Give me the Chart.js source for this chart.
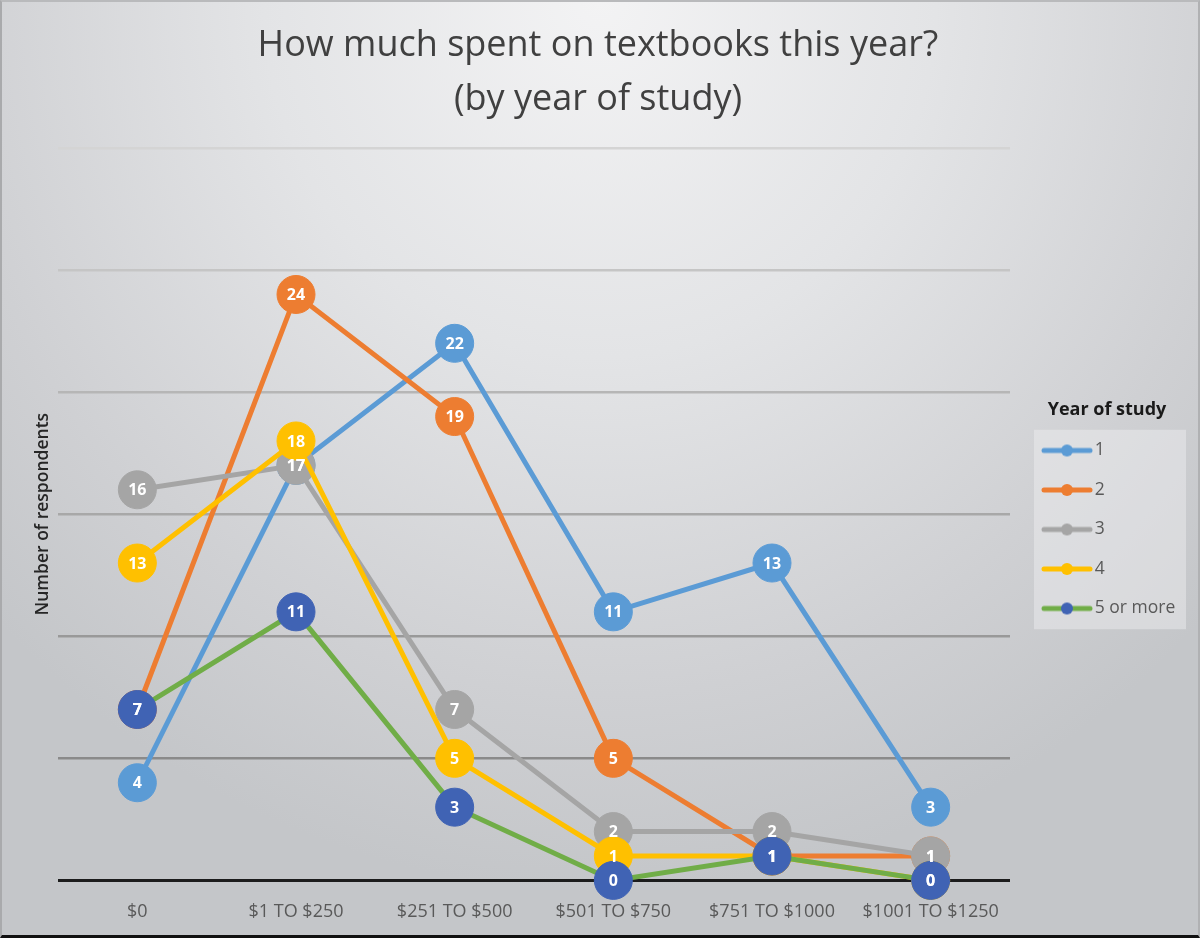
<!DOCTYPE html>
<html>
<head>
<meta charset="utf-8">
<title>Textbook spending by year of study</title>
<script src="https://cdn.jsdelivr.net/npm/chart.js@4.4.1/dist/chart.umd.min.js"></script>
<style>
    html, body { margin: 0; padding: 0; }
    #wrap {
        position: relative; width: 1200px; height: 938px;
        background: radial-gradient(ellipse 70% 95% at 50% 0%, #f3f3f4 0%, #e3e4e6 40%, #cfd0d3 78%, #c4c6c9 100%);
    }
    #frame {
        position: absolute; left: 0; top: 0; right: 0; bottom: 0; pointer-events: none;
        border-left: 2px solid #a9aaac; border-top: 2px solid #b9babc; border-right: 2px solid #b0b1b3;
        border-bottom: 3px solid #101010;
    }
    canvas { display: block; }
</style>
</head>
<body>
<div id="wrap">
    <canvas id="lineChart" width="1200" height="938"></canvas>
    <div id="frame"></div>
</div>
<script>
// values
var categories = ['$0', '$1 TO $250', '$251 TO $500', '$501 TO $750', '$751 TO $1000', '$1001 TO $1250'];
var seriesNames = ['1', '2', '3', '4', '5 or more'];
var year1 = [4, 17, 22, 11, 13, 3];
var year2 = [7, 24, 19, 5, 1, 1];
var year3 = [16, 17, 7, 2, 2, 1];
var year4 = [13, 18, 5, 1, 1, 0];
var year5 = [7, 11, 3, 0, 1, 0];
var yMin = 0, yMax = 30, yStep = 5;

var lineColors = ['#5B9BD5', '#ED7D31', '#A5A5A5', '#FFC000', '#70AD47'];
var pointColors = ['#5B9BD5', '#ED7D31', '#A5A5A5', '#FFC000', '#4063B4'];
var allSeries = [year1, year2, year3, year4, year5];
var font = '"Open Sans", "Noto Sans", sans-serif';

// little line+dot symbol for the legend (wider than its box so it runs up to the text)
function legendSymbol(lineCol, dotCol) {
    var c = document.createElement('canvas');
    c.width = 70; c.height = 14;
    var g = c.getContext('2d');
    g.strokeStyle = lineCol;
    g.lineWidth = 5;
    g.lineCap = 'round';
    g.beginPath(); g.moveTo(20, 7); g.lineTo(66, 7); g.stroke();
    g.fillStyle = dotCol;
    g.beginPath(); g.arc(43, 7, 6, 0, Math.PI * 2); g.fill();
    return c;
}
var symbols = lineColors.map(function (c, i) { return legendSymbol(c, pointColors[i]); });

// white value inside every marker
var pointLabels = {
    id: 'pointLabels',
    afterDatasetsDraw: function (chart) {
        var ctx = chart.ctx;
        ctx.save();
        ctx.font = 'bold 16px ' + font;
        ctx.fillStyle = '#ffffff';
        ctx.textAlign = 'center';
        ctx.textBaseline = 'middle';
        chart.data.datasets.forEach(function (ds, i) {
            chart.getDatasetMeta(i).data.forEach(function (pt, j) {
                ctx.fillText(ds.data[j], pt.x, pt.y + 1);
            });
        });
        ctx.restore();
    }
};

// pale panel behind the legend items; the legend box is widened so
// "5 or more" is not clipped and the title sits over the panel
var legendPanel = {
    id: 'legendPanel',
    beforeDraw: function (chart) {
        var lg = chart.legend, hb = lg && lg.legendHitBoxes;
        if (!hb || !hb.length) return;
        lg.width = 194;
        lg.right = lg.left + lg.width;
        var first = hb[0], last = hb[hb.length - 1];
        var ctx = chart.ctx;
        ctx.save();
        ctx.fillStyle = 'rgba(240,240,242,0.45)';
        ctx.fillRect(first.left + 2, first.top - 12, 152, last.top + last.height - first.top + 24);
        ctx.restore();
    }
};

var datasets = allSeries.map(function (vals, i) {
    return {
        label: seriesNames[i],
        data: vals,
        borderColor: lineColors[i],
        backgroundColor: pointColors[i],
        borderWidth: 5,
        pointRadius: 19,
        pointHoverRadius: 19,
        pointBackgroundColor: pointColors[i],
        pointBorderColor: pointColors[i],
        pointBorderWidth: 1,
        tension: 0,
        fill: false,
        clip: false,
        order: allSeries.length - i
    };
});

var chart = new Chart(document.getElementById('lineChart'), {
    type: 'line',
    data: { labels: categories, datasets: datasets },
    plugins: [legendPanel, pointLabels],
    options: {
        responsive: false,
        animation: false,
        events: [],
        layout: { autoPadding: false, padding: { left: 29, right: 33, top: 19, bottom: -6 } },
        plugins: {
            title: {
                display: true,
                text: ['How much spent on textbooks this year?', '(by year of study)'],
                color: '#404040',
                font: { family: font, size: 36, weight: 'normal', lineHeight: 1.5 },
                padding: { top: 0, bottom: 21 }
            },
            legend: {
                position: 'right',
                fullSize: false,
                maxWidth: 157,
                title: {
                    display: true,
                    text: 'Year of study',
                    color: '#1a1a1a',
                    font: { family: font, size: 18, weight: 'bold' },
                    padding: { top: 12, bottom: -3 }
                },
                labels: {
                    usePointStyle: true,
                    pointStyleWidth: 54,
                    padding: 22,
                    color: '#595959',
                    font: { family: font, size: 17.5 },
                    sort: function (a, b) { return a.datasetIndex - b.datasetIndex; },
                    generateLabels: function (ch) {
                        var items = Chart.defaults.plugins.legend.labels.generateLabels(ch);
                        items.forEach(function (it) { it.pointStyle = symbols[it.datasetIndex]; });
                        return items;
                    }
                }
            },
            tooltip: { enabled: false }
        },
        scales: {
            x: {
                offset: true,
                grid: { display: false, drawTicks: false },
                border: { display: false },
                ticks: { color: '#595959', padding: 21, font: { family: font, size: 18 } }
            },
            y: {
                min: yMin,
                max: yMax,
                ticks: { display: false, stepSize: yStep },
                border: { display: false },
                grid: {
                    drawTicks: false,
                    color: function (c) {
                        var v = c.tick.value;
                        if (v === 0) return '#1c1c1c';
                        var g = Math.round(138 + (212 - 138) * (v - 5) / 25);
                        return 'rgb(' + g + ',' + g + ',' + g + ')';
                    },
                    lineWidth: function (c) { return c.tick.value === 0 ? 3 : 2.5; }
                },
                title: {
                    display: true,
                    text: 'Number of respondents',
                    color: '#262626',
                    font: { family: font, size: 17.5, weight: '600' }
                }
            }
        }
    }
});
</script>
</body>
</html>
